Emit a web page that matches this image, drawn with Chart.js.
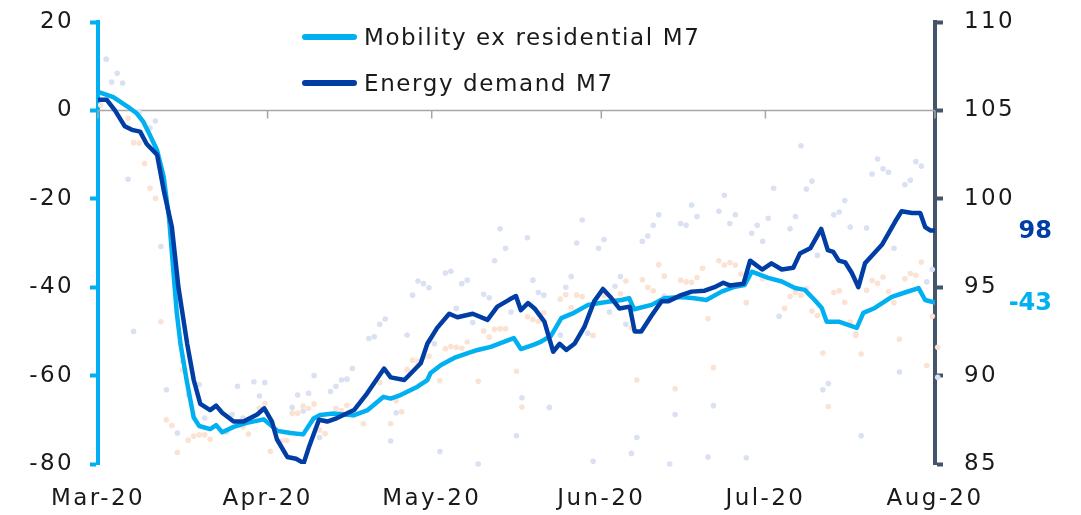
<!DOCTYPE html>
<html><head><meta charset="utf-8">
<script src="https://cdn.jsdelivr.net/npm/chart.js@4"></script>
<style>
html,body{margin:0;padding:0;background:#fff;}
#wrap{position:relative;width:1081px;height:515px;overflow:hidden;}
#c{position:absolute;left:0;top:0;}
.leg{position:absolute;left:302px;font-family:'DejaVu Sans',sans-serif;font-size:23px;letter-spacing:1.6px;color:#1a1a1a;display:flex;align-items:center;white-space:nowrap;height:30px;}
.sw{width:55px;height:6px;border-radius:3px;margin-right:7px;}
</style></head>
<body><div id="wrap"><canvas id="c" width="1081" height="515"></canvas><div id="legend"></div></div>
<script>
// ---- data ----
const monthStarts = [0, 31, 61, 92, 122, 153];           // days since 1 Mar 2020
const monthLabels = ['Mar-20', 'Apr-20', 'May-20', 'Jun-20', 'Jul-20', 'Aug-20'];
const leftTicks = [-80, -60, -40, -20, 0, 20];
const rightTicks = [85, 90, 95, 100, 105, 110];

const mobilityLabel = 'Mobility ex residential M7';
const energyLabel = 'Energy demand M7';

const mobDays = [0, 2.8, 5.6, 7.1, 8.3, 9.5, 10.8, 12.0, 13.0, 14.4, 15.1, 16.2, 17.5, 18.5, 20.5, 21.6, 22.7, 24.8, 27.2, 30.3, 32.8, 35.2, 37.5, 39.4, 40.6, 43.1, 46.7, 49.3, 52.2, 53.5, 55.3, 58.4, 60.2, 60.8, 62.7, 65.1, 67.6, 69.4, 71.8, 73.7, 76.0, 77.3, 79.7, 81.0, 82.8, 84.7, 87.0, 89.6, 93.2, 95.7, 97.1, 98.0, 101.2, 103.5, 106.6, 109.0, 111.2, 114.0, 116.4, 118.2, 119.5, 122.5, 125.0, 127.4, 129.2, 131.0, 132.3, 133.2, 135.4, 138.7, 139.9, 142.0, 145.1, 147.5, 150.0, 151.2, 153.0];
const mobVals = [4.2, 3.0, 0.7, -0.7, -2.6, -5.6, -9.0, -15.0, -24.5, -45.8, -53.0, -61.0, -69.5, -71.4, -72.1, -71.2, -72.8, -71.6, -70.7, -69.9, -72.5, -73.0, -73.3, -69.7, -68.9, -68.6, -69.0, -67.8, -64.8, -65.2, -64.4, -62.5, -61.0, -59.4, -57.6, -56.0, -54.9, -54.2, -53.5, -52.6, -51.5, -54.0, -53.0, -52.3, -51.0, -47.0, -45.8, -44.0, -43.3, -42.9, -42.5, -45.0, -44.0, -42.5, -42.2, -42.5, -42.9, -41.0, -39.9, -39.5, -36.5, -37.9, -38.7, -40.2, -40.6, -42.9, -44.7, -47.8, -47.8, -49.2, -45.8, -44.7, -42.2, -41.2, -40.2, -42.9, -43.5];

const enDays = [0, 1.6, 3.1, 4.9, 6.2, 7.7, 8.9, 10.8, 12.0, 13.5, 14.7, 16.3, 17.5, 18.7, 20.5, 21.6, 22.7, 24.8, 26.6, 29.1, 30.4, 31.8, 32.7, 34.6, 36.2, 37.6, 38.5, 40.4, 41.9, 43.7, 46.8, 49.2, 52.3, 53.5, 56.0, 59.0, 60.2, 62.0, 64.2, 65.7, 68.5, 71.2, 73.0, 75.2, 76.4, 77.3, 78.6, 79.8, 81.6, 83.2, 84.4, 85.6, 87.1, 88.9, 90.7, 92.3, 93.8, 95.3, 97.2, 98.1, 99.3, 101.2, 103.0, 104.2, 106.6, 108.5, 110.9, 112.7, 114.3, 115.5, 118.0, 119.2, 121.4, 123.1, 125.0, 127.1, 128.3, 130.2, 132.2, 133.4, 134.4, 135.4, 136.6, 137.8, 139.0, 140.2, 141.5, 143.3, 144.5, 145.7, 146.9, 148.8, 150.3, 151.2, 152.2, 153.0];
const enVals = [105.6, 105.6, 105.0, 104.1, 103.9, 103.8, 103.1, 102.5, 100.5, 98.4, 95.0, 91.8, 89.75, 88.4, 88.05, 88.3, 87.9, 87.4, 87.4, 87.8, 88.15, 87.4, 86.4, 85.4, 85.3, 85.05, 85.9, 87.5, 87.4, 87.6, 88.05, 89.0, 90.4, 89.9, 89.75, 90.7, 91.8, 92.7, 93.5, 93.3, 93.5, 93.15, 93.9, 94.3, 94.5, 93.7, 94.1, 93.8, 93.05, 91.35, 91.8, 91.45, 91.8, 92.75, 94.2, 94.9, 94.4, 93.8, 93.9, 92.5, 92.5, 93.4, 94.2, 94.2, 94.55, 94.75, 94.8, 95.0, 95.25, 95.1, 95.2, 96.5, 96.0, 96.35, 96.0, 96.1, 96.9, 97.2, 98.3, 97.1, 97.0, 96.5, 96.4, 95.8, 95.0, 96.35, 96.8, 97.4, 98.05, 98.7, 99.3, 99.2, 99.2, 98.4, 98.2, 98.2];

// daily observations (faint dots)
const enDailyDays = [1, 2, 3, 4, 5, 6, 7, 9, 10, 11, 12, 14, 15, 16, 18, 19, 23, 24, 25, 26, 28, 29, 30, 35, 36, 37, 38, 39, 40, 42, 43, 44, 45, 46, 49, 50, 51, 52, 53, 54, 56, 57, 58, 59, 60, 61, 62, 63, 64, 65, 66, 67, 68, 69, 70, 71, 72, 73, 74, 75, 76, 77, 78, 79, 80, 81, 82, 84, 85, 86, 87, 88, 89, 90, 91, 92, 93, 94, 95, 96, 97, 98, 99, 100, 101, 102, 103, 104, 105, 106, 107, 108, 109, 111, 112, 113, 114, 115, 116, 118, 119, 120, 121, 122, 123, 124, 126, 127, 128, 129, 130, 131, 132, 133, 134, 135, 136, 137, 138, 139, 140, 141, 142, 143, 144, 145, 146, 147, 148, 149, 150, 151, 152, 153];
const enDailyVals = [107.9, 106.6, 107.1, 106.55, 101.1, 92.5, 104.9, 104.0, 104.4, 97.3, 89.2, 86.75, 90.8, 88.9, 89.5, 87.6, 86.8, 87.8, 89.4, 87.6, 89.65, 88.85, 89.6, 88.2, 88.9, 88.0, 89.0, 90.0, 86.5, 89.1, 89.4, 89.75, 89.8, 90.4, 92.1, 92.2, 92.9, 93.2, 86.3, 87.9, 92.3, 94.55, 95.35, 95.2, 94.97, 91.8, 85.7, 95.8, 95.9, 93.8, 95.2, 95.4, 93.0, 85.0, 94.6, 94.4, 96.5, 98.3, 97.2, 93.6, 86.6, 88.75, 97.8, 95.4, 94.7, 94.55, 88.2, 92.3, 95.0, 95.6, 97.5, 98.8, 92.4, 85.15, 97.2, 97.7, 93.6, 95.05, 95.6, 92.9, 85.6, 86.5, 97.6, 97.9, 98.5, 99.1, 94.5, 85.0, 87.8, 98.6, 98.5, 99.65, 99.0, 85.4, 88.3, 99.3, 100.2, 98.6, 99.1, 85.35, 98.05, 98.5, 97.6, 98.9, 100.6, 93.35, 98.3, 99.0, 103.0, 100.55, 101.0, 96.8, 89.2, 89.55, 99.1, 99.25, 99.9, 98.4, 92.35, 86.6, 98.35, 101.4, 102.25, 101.7, 101.5, 97.2, 90.2, 100.8, 101.05, 102.1, 101.85, 95.3, 96.0, 89.9];
const mobDailyDays = [0, 5, 6, 7, 8, 9, 10, 11, 12, 13, 14, 15, 16, 17, 18, 19, 20, 26, 27, 29, 30, 31, 33, 34, 35, 36, 37, 38, 39, 40, 41, 43, 44, 45, 48, 51, 53, 54, 55, 56, 57, 58, 59, 60, 62, 63, 64, 65, 66, 67, 69, 70, 71, 72, 73, 74, 76, 77, 78, 79, 80, 81, 84, 85, 86, 87, 88, 90, 92, 95, 96, 97, 98, 99, 100, 101, 102, 103, 105, 106, 107, 108, 109, 110, 111, 112, 113, 114, 115, 116, 117, 118, 121, 125, 126, 127, 128, 129, 130, 131, 132, 133, 134, 135, 136, 137, 138, 139, 140, 141, 142, 143, 144, 145, 146, 147, 148, 149, 150, 151, 152, 153];
const mobDailyVals = [1.2, -1.8, -7.3, -7.4, -12.0, -17.6, -19.9, -47.8, -70.0, -71.3, -77.4, -58.7, -74.6, -73.7, -73.4, -73.4, -74.4, -71.6, -73.2, -67.4, -66.3, -77.1, -74.8, -74.7, -68.5, -68.5, -66.9, -67.4, -66.4, -72.3, -73.1, -67.4, -67.9, -66.7, -70.9, -61.6, -70.9, -65.7, -68.2, -58.6, -56.5, -56.9, -55.9, -55.6, -61.1, -53.9, -53.4, -53.6, -53.8, -52.4, -61.3, -49.9, -51.3, -49.5, -49.4, -49.4, -59.0, -67.1, -46.7, -47.3, -47.7, -45.8, -42.7, -41.7, -44.6, -41.8, -42.1, -50.9, -41.9, -41.5, -38.6, -49.2, -61.0, -38.3, -40.0, -40.8, -34.9, -37.5, -63.0, -38.4, -38.8, -38.9, -37.8, -35.7, -47.1, -58.2, -34.0, -35.0, -34.4, -35.0, -37.0, -43.5, -38.1, -44.8, -42.1, -41.2, -41.8, -40.3, -45.4, -46.4, -54.9, -67.0, -41.2, -40.8, -43.4, -47.9, -50.9, -55.1, -40.7, -38.5, -39.1, -37.7, -41.0, -43.5, -51.8, -38.1, -36.9, -37.3, -34.3, -57.7, -46.6, -53.6];

// ---- styling ----
const C_MOB = '#00B0F0', C_EN = '#003DA5', C_RAX = '#44546A';
const C_MOB_DOT = '#FBE2D2', C_EN_DOT = '#D9E1F2';
const FONT = "'DejaVu Sans', sans-serif";
const FSIZE = 23;
const LSPACE = '2.4px';
const TXT = '#1a1a1a';
const DAILY_OFFSET = 0.5; // daily observations shown at mid-day

const pts = (xs, ys, off = 0) => xs.map((x, i) => ({x: x + off, y: ys[i]}));

const spacing = {
  id: 'spacing',
  beforeUpdate(chart) { chart.ctx.letterSpacing = LSPACE; },
  beforeLayout(chart) { chart.ctx.letterSpacing = LSPACE; },
  beforeDraw(chart) { chart.ctx.letterSpacing = LSPACE; }
};

const zeroLine = {
  id: 'zeroLine',
  beforeDatasetsDraw(chart) {
    const {ctx, chartArea: a, scales} = chart;
    const y0 = scales.y.getPixelForValue(0);
    ctx.save();
    ctx.strokeStyle = '#A6A6A6';
    ctx.lineWidth = 1.5;
    ctx.beginPath();
    ctx.moveTo(a.left, y0); ctx.lineTo(a.right, y0);
    scales.x.ticks.forEach(t => {
      const x = scales.x.getPixelForValue(t.value);
      ctx.moveTo(x, y0); ctx.lineTo(x, y0 + 8);
    });
    ctx.stroke();
    ctx.restore();
  }
};

const endLabels = {
  id: 'endLabels',
  afterDatasetsDraw(chart) {
    const {ctx, chartArea: a} = chart;
    ctx.save();
    ctx.letterSpacing = '0px';
    ctx.font = "bold 24px " + FONT;
    ctx.textAlign = 'right';
    ctx.textBaseline = 'middle';
    chart.data.datasets.forEach((ds, i) => {
      if (!ds.endLabel) return;
      const meta = chart.getDatasetMeta(i);
      const last = meta.data[meta.data.length - 1];
      const v = ds.data[ds.data.length - 1].y;
      ctx.fillStyle = ds.borderColor;
      ctx.fillText(String(Math.round(v)), a.right + 117, last.y + 1);
    });
    ctx.restore();
  }
};

const tickFont = {family: FONT, size: FSIZE};
const noEdgePad = s => { s.paddingTop = 0; s.paddingBottom = 0; };

const chart = new Chart(document.getElementById('c'), {
  data: {
    datasets: [
      {type: 'line', label: energyLabel, data: pts(enDays, enVals), yAxisID: 'y2', borderColor: C_EN, borderWidth: 4.5,
       pointRadius: 0, tension: 0, borderJoinStyle: 'round', borderCapStyle: 'round', order: 0, endLabel: true},
      {type: 'line', label: mobilityLabel, data: pts(mobDays, mobVals), yAxisID: 'y', borderColor: C_MOB, borderWidth: 4.5,
       pointRadius: 0, tension: 0, borderJoinStyle: 'round', borderCapStyle: 'round', order: 1, endLabel: true},
      {type: 'scatter', label: 'Energy daily', data: pts(enDailyDays, enDailyVals, DAILY_OFFSET), yAxisID: 'y2',
       pointRadius: 2.8, pointBackgroundColor: C_EN_DOT, pointBorderWidth: 0, order: 3, clip: false},
      {type: 'scatter', label: 'Mobility daily', data: pts(mobDailyDays, mobDailyVals, DAILY_OFFSET), yAxisID: 'y',
       pointRadius: 2.8, pointBackgroundColor: C_MOB_DOT, pointBorderWidth: 0, order: 2, clip: false}
    ]
  },
  options: {
    responsive: false, animation: false, devicePixelRatio: 1,
    layout: {padding: {top: 22, left: 0, right: 0, bottom: 0}},
    plugins: {legend: {display: false}, tooltip: {enabled: false}},
    scales: {
      x: {
        type: 'linear', min: monthStarts[0], max: monthStarts[monthStarts.length - 1],
        afterBuildTicks: s => { s.ticks = monthStarts.map(v => ({value: v})); },
        ticks: {callback: v => monthLabels[monthStarts.indexOf(v)], font: tickFont, color: TXT,
                padding: 21, maxRotation: 0, autoSkip: false},
        grid: {display: false, drawTicks: false},
        border: {display: false},
        afterFit: s => { s.height = 51; }
      },
      y: {
        position: 'left', min: leftTicks[0], max: leftTicks[leftTicks.length - 1],
        afterBuildTicks: s => { s.ticks = leftTicks.map(v => ({value: v})); },
        ticks: {font: tickFont, color: TXT, padding: 16},
        grid: {drawOnChartArea: false, drawTicks: true, tickLength: 8, tickColor: C_MOB, tickWidth: 4},
        border: {display: true, color: C_MOB, width: 4},
        afterFit: s => { s.width = 98; noEdgePad(s); }
      },
      y2: {
        position: 'right', min: rightTicks[0], max: rightTicks[rightTicks.length - 1],
        afterBuildTicks: s => { s.ticks = rightTicks.map(v => ({value: v})); },
        ticks: {font: tickFont, color: TXT, padding: 21},
        grid: {drawOnChartArea: false, drawTicks: true, tickLength: 8, tickColor: C_RAX, tickWidth: 4},
        border: {display: true, color: C_RAX, width: 4},
        afterFit: s => { s.width = 146; noEdgePad(s); }
      }
    }
  },
  plugins: [spacing, zeroLine, endLabels]
});

// HTML legend built from the datasets
const legendTops = [22, 68];
const legEl = document.getElementById('legend');
[chart.data.datasets[1], chart.data.datasets[0]].forEach((ds, i) => {
  const d = document.createElement('div');
  d.className = 'leg';
  d.style.top = legendTops[i] + 'px';
  const sw = document.createElement('span');
  sw.className = 'sw';
  sw.style.background = ds.borderColor;
  const t = document.createElement('span');
  t.textContent = ds.label;
  d.appendChild(sw); d.appendChild(t);
  legEl.appendChild(d);
});
</script>
</body></html>
